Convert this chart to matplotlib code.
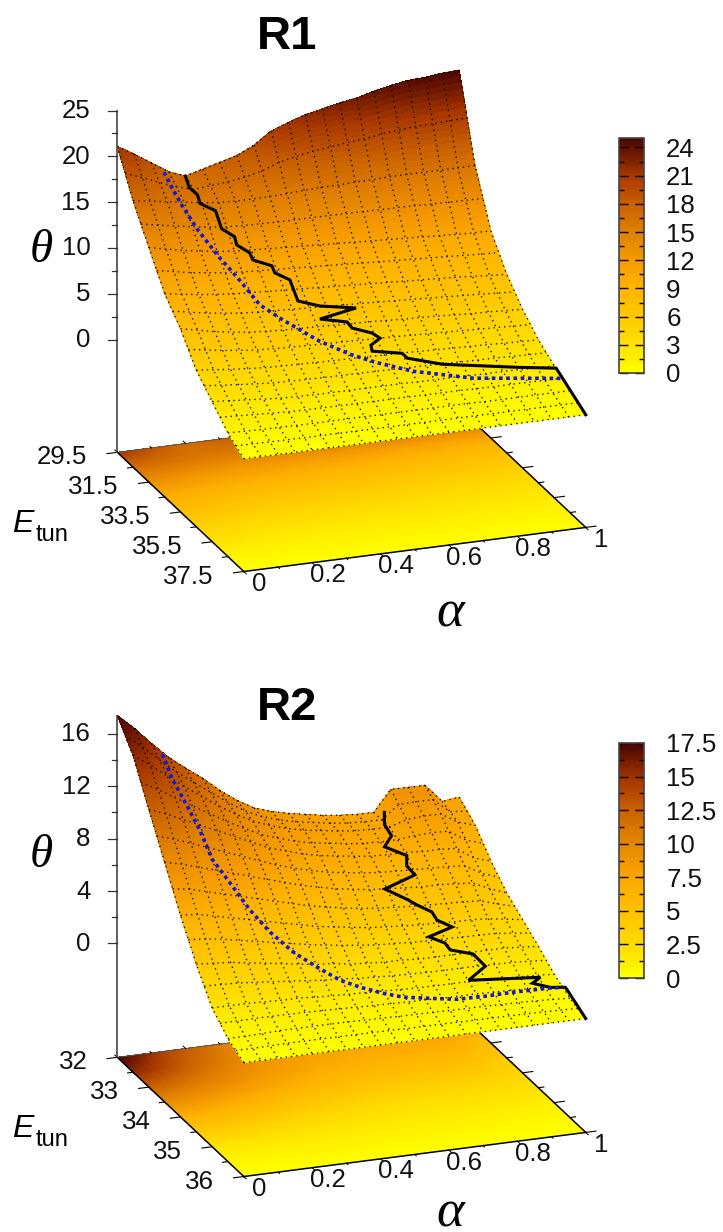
import matplotlib
matplotlib.use("Agg")
import matplotlib.pyplot as plt
import numpy as np
from matplotlib.colors import LinearSegmentedColormap, Normalize
from matplotlib.cm import ScalarMappable
from matplotlib.ticker import MultipleLocator, FuncFormatter
from mpl_toolkits.mplot3d import proj3d

plt.rcParams['font.family'] = ['Liberation Sans', 'DejaVu Sans']
plt.rcParams['mathtext.fontset'] = 'custom'
plt.rcParams['mathtext.it'] = 'Liberation Serif:italic'
plt.rcParams['mathtext.rm'] = 'Liberation Serif'

alpha = [0, .05, .1, .15, .2, .25, .3, .35, .4, .45, .5, .55, .6, .65, .7, .75, .8, .85, .9, .95, 1]

# R1 theta, one row per E_tun value
r1_energy = [29.5, 30.5, 31.5, 32.5, 33.5, 34.5, 35.5, 36.5, 37.5]
r1_theta = [
    [21.1, 20.0, 18.8, 17.6, 16.9, 17.4, 17.9, 18.4, 19.3, 20.6, 21.3, 21.9, 22.3, 22.7, 23.0, 23.5, 23.9, 24.2, 24.3, 24.5, 24.6],
    [16.8, 16.5, 16.2, 15.9, 15.6, 15.4, 15.3, 15.3, 15.3, 15.4, 15.5, 15.6, 15.6, 15.7, 15.7, 15.8, 15.8, 15.8, 15.8, 15.8, 15.8],
    [13.3, 12.9, 12.5, 12.2, 11.9, 11.7, 11.6, 11.5, 11.4, 11.3, 11.2, 11.1, 11.0, 10.9, 10.8, 10.7, 10.6, 10.5, 10.4, 10.35, 10.3],
    [9.9, 9.6, 9.3, 9.1, 8.9, 8.8, 8.7, 8.6, 8.5, 8.4, 8.3, 8.2, 8.1, 8.0, 7.9, 7.8, 7.7, 7.6, 7.45, 7.3, 7.2],
    [7.7, 7.3, 6.9, 6.6, 6.35, 6.2, 6.1, 6.05, 6.0, 5.9, 5.85, 5.8, 5.7, 5.6, 5.55, 5.45, 5.35, 5.25, 5.2, 5.1, 5.0],
    [4.8, 4.6, 4.4, 4.25, 4.1, 4.05, 4.0, 3.95, 3.9, 3.9, 3.85, 3.8, 3.8, 3.7, 3.65, 3.6, 3.55, 3.5, 3.4, 3.35, 3.3],
    [3.0, 2.85, 2.7, 2.55, 2.4, 2.35, 2.3, 2.3, 2.3, 2.3, 2.3, 2.3, 2.25, 2.25, 2.25, 2.2, 2.2, 2.2, 2.15, 2.1, 2.1],
    [1.2, 1.15, 1.1, 1.1, 1.05, 1.05, 1.05, 1.05, 1.05, 1.05, 1.05, 1.05, 1.05, 1.05, 1.05, 1.0, 1.0, 1.0, 1.0, 1.0, 1.0],
    [0] * 21,
]

# R2 theta
r2_energy = [32, 32.5, 33, 33.5, 34, 34.5, 35, 35.5, 36]
r2_theta = [
    [17.4, 16.25, 14.93, 13.7, 12.7, 11.76, 10.67, 9.74, 9.0, 8.57, 8.25, 8.0, 7.76, 7.6, 7.5, 7.48, 9.07, 9.06, 9.04, 7.65, 7.8],
    [15.5, 14.6, 13.6, 12.6, 11.7, 10.8, 10.0, 9.3, 8.8, 8.4, 8.1, 7.9, 7.7, 7.55, 7.5, 7.5, 7.9, 8.0, 8.0, 7.2, 6.8],
    [12.5, 12.0, 11.4, 10.8, 10.2, 9.6, 9.0, 8.4, 8.0, 7.6, 7.3, 7.1, 6.9, 6.75, 6.7, 6.7, 6.6, 6.6, 6.5, 5.6, 5.2],
    [9.6, 9.3, 8.9, 8.5, 8.1, 7.7, 7.3, 6.9, 6.5, 6.2, 5.9, 5.7, 5.5, 5.4, 5.3, 5.2, 5.2, 5.1, 5.0, 4.4, 3.9],
    [6.7, 6.6, 6.3, 6.0, 5.7, 5.4, 5.1, 4.8, 4.5, 4.3, 4.1, 3.9, 3.8, 3.7, 3.6, 3.6, 3.5, 3.5, 3.4, 3.2, 3.0],
    [4.1, 4.0, 3.9, 3.7, 3.5, 3.3, 3.1, 2.9, 2.8, 2.6, 2.5, 2.4, 2.4, 2.3, 2.3, 2.3, 2.3, 2.3, 2.3, 2.2, 2.1],
    [1.9, 1.9, 1.9, 1.85, 1.8, 1.8, 1.7, 1.65, 1.6, 1.55, 1.5, 1.45, 1.4, 1.4, 1.4, 1.4, 1.35, 1.3, 1.25, 1.2, 1.1],
    [.7, .7, .75, .8, .8, .8, .8, .8, .75, .75, .7, .7, .7, .65, .65, .65, .6, .6, .55, .5, .4],
    [0] * 21,
]

# black and blue curves lying on the surfaces
r1_black_a = [.199, .181, .1985, .2, .237, .237, .266, .264, .293, .294, .341, .342, .3766, .376, .431, .529, .416, .488, .494, .543, .559, .525, .521, .601, .608, .695, .896, 1, 1]
r1_black_e = [29.5, 30.14, 30.27, 30.42, 30.59, 30.97, 31.17, 31.34, 31.54, 31.71, 31.9, 32.06, 32.27, 32.79, 32.99, 33.16, 33.32, 33.48, 33.66, 33.86, 34.03, 34.19, 34.35, 34.52, 34.69, 35.03, 35.43, 35.63, 37.5]
r1_black_t = [16.9, 16.76, 16.13, 15.38, 14.7, 13.36, 12.66, 12.07, 11.38, 10.88, 10.32, 9.81, 9.21, 7.76, 7.27, 6.86, 6.46, 6.05, 5.65, 5.2, 4.84, 4.49, 4.12, 3.78, 3.49, 2.96, 2.31, 2.04, 0]

r1_blue_a = [.137, .131, .146, .169, .204, .232, .266, .312, .342, .387, .456, .514, .605, .759, .905, .994]
r1_blue_e = [29.5, 30.09, 30.4, 30.93, 31.56, 32.04, 32.77, 33.22, 33.47, 33.9, 34.36, 34.69, 35.13, 35.61, 35.86, 36.02]
r1_blue_t = [17.6, 17.03, 15.5, 13.5, 11.31, 9.87, 7.82, 6.7, 6.07, 5.14, 4.11, 3.5, 2.79, 2.07, 1.77, 1.59]

r2_black_a = [.781, .735, .738, .704, .753, .74, .751, .65, .7, .718, .75, .7535, .785, .707, .742, .746, .802, .8155, .747, .947, .915, .957, .998, 1]
r2_black_e = [32, 32.5, 32.69, 32.84, 33.01, 33.15, 33.29, 33.43, 33.62, 33.71, 33.84, 33.96, 34.1, 34.21, 34.34, 34.46, 34.58, 34.82, 35.03, 35.14, 35.23, 35.35, 35.38, 36]
r2_black_t = [7.38, 7.74, 7.31, 6.92, 6.47, 6.05, 5.64, 5.22, 4.66, 4.41, 4.06, 3.71, 3.39, 3.15, 2.85, 2.59, 2.36, 1.93, 1.56, 1.37, 1.23, 1.04, .98, 0]

r2_blue_a = [.132, .133, .145, .155, .161, .191, .215, .248, .29, .339, .388, .435, .489, .537, .608, .68, .756, .844, .943, .987]
r2_blue_e = [32, 32.31, 32.62, 32.93, 33.27, 33.59, 33.87, 34.15, 34.43, 34.65, 34.86, 34.98, 35.13, 35.24, 35.32, 35.4, 35.41, 35.4, 35.41, 35.43]
r2_blue_t = [14.0, 12.76, 11.52, 10.27, 8.74, 7.3, 6.08, 4.92, 3.89, 3.08, 2.38, 1.97, 1.66, 1.46, 1.31, 1.18, 1.17, 1.17, 1.16, 1.13]

r1_theta_ticks = [0, 5, 10, 15, 20, 25]
r2_theta_ticks = [0, 4, 8, 12, 16]
r1_energy_ticks = [29.5, 31.5, 33.5, 35.5, 37.5]
r2_energy_ticks = [32, 33, 34, 35, 36]
alpha_ticks = [0, .2, .4, .6, .8, 1]

W, H = 723, 1232
BOX = 600  # size of the 3D axes in pixels
CENTRE = 308.1  # the 3D view centre sits off the axes centre
LABEL = 18.6

palette = LinearSegmentedColormap.from_list("heat", [
    (0, "#ffff00"), (.12, "#ffe000"), (.24, "#ffc800"), (.36, "#ffb400"),
    (.48, "#f59a00"), (.60, "#e08000"), (.72, "#c86000"), (.84, "#a83800"),
    (.96, "#601000"), (1, "#4a0505")])

fig = plt.figure(figsize=(W / 100, H / 100), dpi=100)
over = fig.add_axes([0, 0, 1, 1], zorder=5)
over.set_xlim(0, W)
over.set_ylim(H, 0)
over.axis("off")


def resample(table, a_old, e_old, a_new, e_new):
    # only for drawing: fill the pm3d facets between the table values
    t = np.array(table, dtype=float)
    t = np.array([np.interp(a_new, a_old, row) for row in t])
    return np.array([np.interp(e_new, e_old, t[:, j]) for j in range(t.shape[1])]).T


def panel(cy, title, energy, theta, e_ticks, e_minor, z_ticks, z_minor, zlim, cbmax, cb_step,
          black, blue, cb_top, cb_bottom, title_y, theta_y, alpha_y, etun_y):
    ax = fig.add_axes([(351.5 - CENTRE) / W, (H - cy - CENTRE) / H, BOX / W, BOX / H], projection="3d")
    ax.set_proj_type("ortho")
    ax.view_init(elev=20.4, azim=-110.3)
    ax.set_box_aspect((1, 1, 1), zoom=1.0218)
    ax.set_axis_off()
    ax.patch.set_visible(False)
    ax.computed_zorder = False

    norm = Normalize(0, cbmax)
    a_fine = np.linspace(0, 1, 141)
    e_fine = np.linspace(energy[0], energy[-1], 121)
    z_fine = resample(theta, alpha, energy, a_fine, e_fine)
    A, E = np.meshgrid(a_fine, e_fine)
    colors = palette(norm(z_fine))
    ax.plot_surface(A, E, np.full_like(z_fine, zlim[0]), facecolors=colors, rstride=1, cstride=1,
                    shade=False, antialiased=False, linewidth=0, zorder=1)

    # box edges and ticks on the base plane
    e0, e1 = energy[0], energy[-1]
    base = zlim[0]
    ax.plot([0, 1], [e0, e0], [base, base], color="#555555", lw=.7, zorder=1.5)
    ax.plot([0, 0], [e0, e1], [base, base], color="k", lw=1.1, zorder=1.5)
    ax.plot([0, 1], [e1, e1], [base, base], color="k", lw=1.1, zorder=1.5)
    ax.plot([1, 1], [e0, e1], [base, base], color="k", lw=1.1, zorder=1.5)
    for e in np.arange(e0, e1 + .01, e_minor):
        n = .03 if min(abs(e - np.array(e_ticks))) < .01 else .016
        ax.plot([-n, 0], [e, e], [base, base], color="k", lw=.8, zorder=1.5)
        ax.plot([1, 1 + n], [e, e], [base, base], color="k", lw=.8, zorder=1.5)
    de = (e1 - e0)
    for a in np.arange(0, 1.01, .1):
        n = .02 if int(round(a * 10)) % 2 == 0 else .012
        ax.plot([a, a], [e1, e1 + n * de], [base, base], color="k", lw=.7, zorder=1.5)
        ax.plot([a, a], [e0 - n * de, e0], [base, base], color="k", lw=.7, zorder=1.5)

    ax.plot_surface(A, E, z_fine, facecolors=colors, rstride=1, cstride=1,
                    shade=False, antialiased=False, linewidth=0, zorder=2)

    # dotted mesh of the data grid
    e_lines = np.linspace(e0, e1, 17)
    mesh = resample(theta, alpha, energy, a_fine, e_lines)
    for i, e in enumerate(e_lines):
        ax.plot(a_fine, np.full_like(a_fine, e), mesh[i], color="k", lw=.95, ls=(0, (1, 3)), zorder=3)
    mesh2 = resample(theta, alpha, energy, np.array(alpha), e_fine)
    for j, a in enumerate(alpha):
        ax.plot(np.full_like(e_fine, a), e_fine, mesh2[:, j], color="k", lw=.95, ls=(0, (1, 3)), zorder=3)

    ax.plot(black[0], black[1], black[2], color="k", lw=2.2, zorder=4, solid_joinstyle="miter")
    ax.plot(blue[0], blue[1], blue[2], color="#1515dd", lw=2.6, ls=(0, (1, 1)), zorder=5)

    ax.set_xlim(0, 1, view_margin=0)
    ax.set_ylim(e1, e0, view_margin=0)
    ax.set_zlim(zlim[0], zlim[1], view_margin=0)

    ax.apply_aspect()

    def px(a, e, z):
        X, Y, _ = proj3d.proj_transform(a, e, z, ax.get_proj())
        x, y = ax.transData.transform((X, Y))
        return x, H - y

    # theta axis
    x0, y0 = px(0, e0, zlim[0])
    x1, y1 = px(0, e0, zlim[1])
    over.plot([x0, x1], [y0, y1], color="#444444", lw=1.2)
    for z in np.arange(z_ticks[0], zlim[1] + .01, z_minor):
        xt, yt = px(0, e0, z)
        major = z in z_ticks
        over.plot([xt - (9 if major else 5), xt], [yt, yt], color="#333333", lw=.9)
        if major:
            over.text(xt - 27, yt + .5, f"{z:g}", ha="right", va="center", fontsize=LABEL, color="#111111")

    for e in e_ticks:
        xt, yt = px(0, e, zlim[0])
        over.text(xt - 30, yt + 5, f"{e:g}", ha="right", va="center", fontsize=LABEL, color="#111111")
    for a in alpha_ticks:
        xt, yt = px(a, e1, zlim[0])
        over.text(xt + 15.5, yt + 12.5, f"{a:g}", ha="center", va="center", fontsize=LABEL, color="#111111")

    over.text(287, title_y, title, ha="center", va="center", fontsize=34, fontweight="bold", color="k")
    over.text(41, theta_y, r"$\theta$", ha="center", va="center", fontsize=34, color="k")
    over.text(451, alpha_y, r"$\alpha$", ha="center", va="center", fontsize=38, color="k")
    over.text(12, etun_y, "E", ha="left", va="baseline", fontsize=23, style="italic", color="k")
    over.text(36, etun_y + 9, "tun", ha="left", va="baseline", fontsize=17, color="k")

    # colour bar
    cax = fig.add_axes([619 / W, (H - cb_bottom) / H, 25 / W, (cb_bottom - cb_top) / H])
    sm = ScalarMappable(norm=norm, cmap=palette)
    cb = fig.colorbar(sm, cax=cax)
    cb.set_ticks(list(np.arange(0, cbmax + .01, cb_step)))
    cax.yaxis.set_major_formatter(FuncFormatter(lambda v, p: f"{v:g}"))
    cax.yaxis.set_minor_locator(MultipleLocator(cb_step / 2))
    cax.tick_params(which="major", left=True, right=True, direction="in", length=6.5, width=1,
                    labelsize=LABEL, pad=16, labelcolor="#111111")
    cax.tick_params(which="minor", left=True, right=True, direction="in", length=3.5, width=1)
    cb.outline.set_linewidth(1.2)
    cb.outline.set_edgecolor("#444444")
    return ax


panel(319, "R1", r1_energy, r1_theta, r1_energy_ticks, 1, r1_theta_ticks, 2.5, (-12.3, 25), 25, 3,
      (r1_black_a, r1_black_e, r1_black_t), (r1_blue_a, r1_blue_e, r1_blue_t), 138, 373, 37, 250, 612, 532)
panel(924, "R2", r2_energy, r2_theta, r2_energy_ticks, .5, r2_theta_ticks, 2, (-8.7, 17.4), 17.5, 2.5,
      (r2_black_a, r2_black_e, r2_black_t), (r2_blue_a, r2_blue_e, r2_blue_t), 743, 978, 708, 855, 1211, 1137)

fig.savefig("out.png", dpi=100)
